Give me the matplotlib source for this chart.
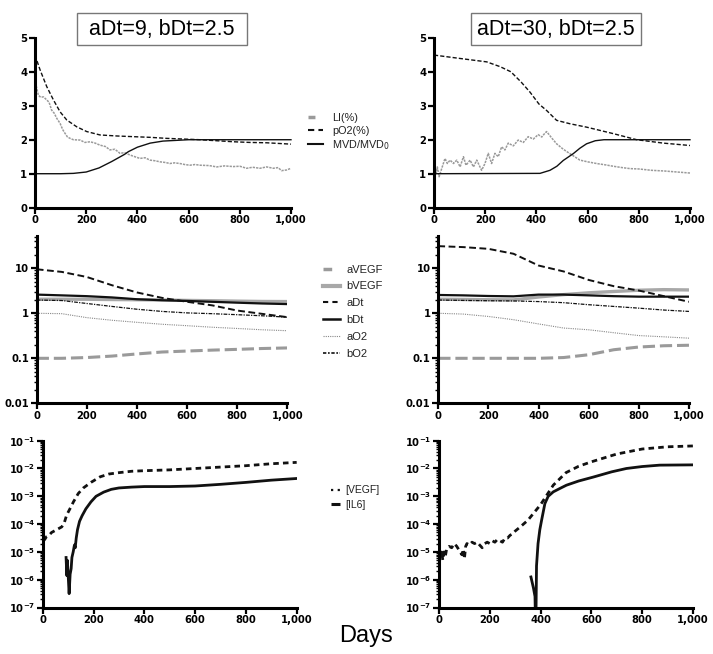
"""
Tumour model time courses: two parameter sets (aDt=9 vs aDt=30, bDt=2.5),
three rows of panels (LI/pO2/MVD, log-scale concentrations, VEGF/IL6).
"""

# %% Imports

import numpy as np
import matplotlib
matplotlib.use("Agg")
import matplotlib.pyplot as plt
from matplotlib.lines import Line2D
from matplotlib.patches import Rectangle
from matplotlib.ticker import FixedLocator, FuncFormatter, LogLocator, NullFormatter

plt.rcParams["font.family"] = ["Liberation Sans", "DejaVu Sans"]
plt.rcParams["mathtext.fontset"] = "dejavusans"

# %% Data

panel_titles = ["aDt=9, bDt=2.5", "aDt=30, bDt=2.5"]
x_ticks = [0, 200, 400, 600, 800, 1000]

# top row, left (aDt=9)
li_left_x = [0, 4, 13, 22, 33, 46, 55, 65, 75, 85, 98, 108, 117, 127, 137, 150, 176, 195, 215, 235, 254,
             275, 293, 312, 332, 350, 371, 390, 410, 430, 449, 470, 488, 510, 527, 545, 566, 585, 605,
             625, 645, 680, 710, 740, 775, 800, 827, 850, 879, 905, 931, 950, 963, 983, 1000]
li_left_y = [3.55, 3.61, 3.31, 3.25, 3.26, 3.17, 3.1, 2.87, 2.78, 2.63, 2.48, 2.3, 2.19, 2.08, 2.04, 2.0,
             1.99, 1.92, 1.94, 1.9, 1.84, 1.8, 1.7, 1.72, 1.6, 1.62, 1.55, 1.5, 1.45, 1.47, 1.4, 1.38,
             1.35, 1.33, 1.3, 1.32, 1.3, 1.27, 1.25, 1.27, 1.25, 1.24, 1.2, 1.23, 1.21, 1.22, 1.16, 1.19,
             1.16, 1.2, 1.16, 1.18, 1.09, 1.11, 1.16]
po2_left_x = [0, 20, 46, 72, 98, 124, 163, 202, 254, 320, 384, 450, 514, 580, 645, 710, 775, 840, 905, 1000]
po2_left_y = [4.49, 4.05, 3.56, 3.17, 2.82, 2.58, 2.38, 2.24, 2.14, 2.11, 2.09, 2.07, 2.04, 2.02, 2.0,
              1.97, 1.94, 1.92, 1.91, 1.87]
mvd_left_x = [0, 100, 150, 200, 250, 300, 350, 365, 400, 450, 500, 550, 600, 650, 1000]
mvd_left_y = [1.0, 1.0, 1.01, 1.05, 1.17, 1.36, 1.57, 1.65, 1.78, 1.9, 1.96, 1.98, 2.0, 2.0, 2.0]

# top row, right (aDt=30)
li_right_x = [0, 8, 13, 20, 30, 43, 52, 63, 76, 89, 102, 115, 125, 141, 154, 167, 186, 199, 212, 225,
              238, 251, 264, 277, 290, 310, 329, 349, 368, 388, 407, 421, 434, 440, 460, 479, 505, 531,
              570, 600, 635, 670, 700, 735, 766, 800, 850, 900, 950, 1000]
li_right_y = [1.4, 1.0, 1.2, 0.91, 1.15, 1.45, 1.3, 1.4, 1.3, 1.4, 1.2, 1.5, 1.25, 1.4, 1.2, 1.4, 1.1,
              1.3, 1.6, 1.3, 1.6, 1.5, 1.79, 1.7, 1.9, 1.82, 1.99, 1.92, 2.09, 2.02, 2.15, 2.08, 2.2,
              2.24, 2.05, 1.88, 1.72, 1.59, 1.4, 1.35, 1.3, 1.26, 1.22, 1.18, 1.15, 1.14, 1.1, 1.08,
              1.05, 1.02]
po2_right_x = [0, 102, 206, 258, 300, 340, 375, 410, 440, 479, 531, 596, 700, 792, 896, 1000]
po2_right_y = [4.49, 4.39, 4.29, 4.15, 4.0, 3.7, 3.4, 3.05, 2.86, 2.57, 2.47, 2.37, 2.18, 2.0, 1.9, 1.83]
mvd_right_x = [0, 414, 453, 480, 505, 544, 570, 596, 630, 664, 1000]
mvd_right_y = [1.0, 1.01, 1.1, 1.22, 1.39, 1.59, 1.75, 1.88, 1.97, 2.0, 2.0]

# middle row (log scale)
mid_x = [0, 100, 200, 300, 400, 500, 600, 700, 800, 900, 1000]
avegf_left = [0.1, 0.1, 0.104, 0.112, 0.125, 0.138, 0.145, 0.152, 0.158, 0.165, 0.17]
bvegf_left = [2.05, 2.05, 2.05, 2.02, 2.0, 1.97, 1.93, 1.9, 1.86, 1.83, 1.82]
adt_left = [9.5, 8.3, 6.4, 4.2, 2.9, 2.2, 1.8, 1.5, 1.15, 0.97, 0.82]
bdt_left = [2.6, 2.5, 2.4, 2.25, 2.05, 1.95, 1.88, 1.8, 1.72, 1.65, 1.6]
ao2_left = [1.0, 0.98, 0.8, 0.7, 0.63, 0.57, 0.53, 0.49, 0.46, 0.43, 0.41]
bo2_left = [1.97, 1.92, 1.65, 1.42, 1.23, 1.1, 1.02, 0.98, 0.93, 0.88, 0.82]

avegf_right = [0.1, 0.1, 0.1, 0.1, 0.1, 0.104, 0.12, 0.155, 0.178, 0.19, 0.195]
bvegf_right = [2.05, 2.03, 2.0, 1.98, 2.3, 2.6, 2.85, 3.05, 3.25, 3.35, 3.3]
adt_right = [31, 29.5, 27, 21, 11.5, 8.5, 5.5, 4.0, 3.2, 2.4, 1.8]
bdt_right = [2.55, 2.5, 2.42, 2.38, 2.6, 2.6, 2.5, 2.4, 2.34, 2.34, 2.34]
ao2_right = [1.0, 0.96, 0.85, 0.72, 0.58, 0.47, 0.43, 0.37, 0.32, 0.3, 0.28]
bo2_right = [1.97, 1.93, 1.9, 1.88, 1.82, 1.72, 1.55, 1.42, 1.3, 1.18, 1.1]

# bottom row, values given as log10 of the concentration
vegf_left_x = [0, 3, 8, 15, 25, 35, 45, 55, 65, 75, 85, 94, 110, 121, 140, 160, 190, 226, 260, 300,
               350, 400, 500, 600, 700, 800, 900, 1000]
vegf_left_log10 = [-4.95, -4.6, -4.55, -4.45, -4.4, -4.3, -4.25, -4.2, -4.15, -4.1, -3.95, -3.68, -3.4,
                   -3.2, -2.9, -2.7, -2.5, -2.3, -2.2, -2.15, -2.1, -2.08, -2.05, -2.0, -1.95, -1.9,
                   -1.83, -1.78]
il6_left_x = [92, 95, 97, 100, 104, 108, 112, 115, 120, 125, 128, 132, 137, 145, 155, 170, 190, 210,
              240, 270, 300, 350, 400, 500, 600, 700, 800, 900, 1000]
il6_left_log10 = [-5.2, -5.85, -5.3, -5.8, -6.5, -5.8, -5.6, -5.2, -5.0, -4.75, -4.85, -4.5, -4.2, -3.9,
                  -3.7, -3.45, -3.2, -3.0, -2.85, -2.75, -2.7, -2.67, -2.65, -2.65, -2.63, -2.57, -2.5,
                  -2.42, -2.36]

vegf_right_x = [0, 5, 10, 15, 20, 25, 30, 40, 50, 60, 70, 80, 90, 95, 100, 105, 110, 120, 130, 140, 150,
                160, 170, 180, 190, 200, 210, 220, 230, 240, 250, 260, 270, 280, 290, 300, 320, 350,
                400, 450, 500, 550, 600, 700, 800, 900, 1000]
vegf_right_log10 = [-4.9, -5.2, -4.95, -5.3, -5.0, -5.15, -4.9, -4.8, -4.85, -4.7, -4.8, -4.95, -5.1,
                    -4.9, -5.25, -4.8, -4.7, -4.75, -4.65, -4.7, -4.65, -4.75, -4.85, -4.7, -4.65, -4.7,
                    -4.6, -4.65, -4.55, -4.6, -4.65, -4.5, -4.5, -4.4, -4.35, -4.25, -4.1, -3.86, -3.3,
                    -2.6, -2.15, -1.92, -1.76, -1.48, -1.3, -1.22, -1.19]
il6_right_x = [362, 372, 378, 381, 384, 390, 397, 404, 417, 430, 450, 480, 502, 550, 607, 680, 738,
               800, 869, 1000]
il6_right_log10 = [-5.9, -6.3, -6.6, -8.0, -5.5, -4.7, -4.2, -3.86, -3.26, -3.0, -2.84, -2.7, -2.6,
                   -2.45, -2.31, -2.12, -2.0, -1.93, -1.88, -1.87]

# %% Styles

GRAY = "#9a9a9a"
INK = "#111111"


def style_axes(ax):
    for side in ("top", "right"):
        ax.spines[side].set_visible(False)
    for side in ("left", "bottom"):
        ax.spines[side].set_linewidth(2.2)
    ax.set_xlim(0, 1000)
    ax.xaxis.set_major_locator(FixedLocator(x_ticks))
    ax.xaxis.set_major_formatter(FuncFormatter(lambda v, _: f"{v:,.0f}"))
    ax.tick_params(which="major", direction="out", length=4, width=1.6, pad=1.5, labelsize=7.2)
    ax.tick_params(which="minor", direction="out", length=2.2, width=1.0)
    for lbl in ax.get_xticklabels() + ax.get_yticklabels():
        lbl.set_fontfamily("DejaVu Sans")
        lbl.set_fontweight("bold")


def log_minor(ax):
    ax.yaxis.set_minor_locator(LogLocator(base=10, subs=np.arange(2, 10), numticks=20))
    ax.yaxis.set_minor_formatter(NullFormatter())


# %% Figure

fig = plt.figure(figsize=(7.13, 6.54), dpi=100)

top_l = fig.add_axes([0.0491, 0.6824, 0.3590, 0.2599])
top_r = fig.add_axes([0.6087, 0.6824, 0.3590, 0.2599])
mid_l = fig.add_axes([0.0515, 0.3833, 0.3515, 0.2558])
mid_r = fig.add_axes([0.6147, 0.3833, 0.3516, 0.2558])
bot_l = fig.add_axes([0.0599, 0.0710, 0.3562, 0.2552])
bot_r = fig.add_axes([0.6157, 0.0710, 0.3562, 0.2552])

# top row
for ax, (lx, ly, px, py, mx, my) in zip(
    (top_l, top_r),
    (
        (li_left_x, li_left_y, po2_left_x, po2_left_y, mvd_left_x, mvd_left_y),
        (li_right_x, li_right_y, po2_right_x, po2_right_y, mvd_right_x, mvd_right_y),
    ),
):
    ax.plot(lx, ly, color=GRAY, lw=1.1, ls=(0, (1.5, 0.7)), clip_on=False)
    ax.plot(px, py, color=INK, lw=1.0, ls=(0, (3, 1.5)), clip_on=False)
    ax.plot(mx, my, color=INK, lw=1.0, clip_on=False)
    ax.set_ylim(0, 5)
    ax.set_yticks([0, 1, 2, 3, 4, 5])
    style_axes(ax)

# middle row
for ax, series in zip(
    (mid_l, mid_r),
    (
        (avegf_left, bvegf_left, adt_left, bdt_left, ao2_left, bo2_left),
        (avegf_right, bvegf_right, adt_right, bdt_right, ao2_right, bo2_right),
    ),
):
    avegf, bvegf, adt, bdt, ao2, bo2 = series
    ax.plot(mid_x, bvegf, color="#a8a8a8", lw=2.4)
    ax.plot(mid_x, avegf, color=GRAY, lw=2.2, ls=(0, (4, 1.6)))
    ax.plot(mid_x, bdt, color=INK, lw=1.6)
    ax.plot(mid_x, adt, color=INK, lw=1.4, ls=(0, (3.5, 1.8)))
    ax.plot(mid_x, ao2, color="#888888", lw=0.8, ls=(0, (1, 1)))
    ax.plot(mid_x, bo2, color=INK, lw=0.9, ls=(0, (3, 1, 1, 1)))
    ax.set_yscale("log")
    ax.set_ylim(0.01, 52)
    ax.yaxis.set_major_locator(FixedLocator([0.01, 0.1, 1, 10]))
    ax.yaxis.set_major_formatter(FuncFormatter(lambda v, _: f"{v:g}"))
    log_minor(ax)
    style_axes(ax)

# bottom row
for ax, (vx, vy, ix, iy) in zip(
    (bot_l, bot_r),
    (
        (vegf_left_x, vegf_left_log10, il6_left_x, il6_left_log10),
        (vegf_right_x, vegf_right_log10, il6_right_x, il6_right_log10),
    ),
):
    ax.plot(vx, 10.0 ** np.array(vy), color=INK, lw=2.0, ls=(0, (2, 1.5)))
    ax.plot(ix, 10.0 ** np.array(iy), color=INK, lw=2.0)
    ax.set_yscale("log")
    ax.set_ylim(1e-7, 1e-1)
    ax.yaxis.set_major_locator(FixedLocator([1e-7, 1e-6, 1e-5, 1e-4, 1e-3, 1e-2, 1e-1]))
    ax.yaxis.set_major_formatter(
        FuncFormatter(lambda v, _: r"$\mathbf{10^{%d}}$" % int(round(np.log10(v))))
    )
    log_minor(ax)
    style_axes(ax)

# %% Titles, legends, axis label

for x0, title in zip((77, 471), panel_titles):
    fig.patches.append(Rectangle((x0 / 713, 1 - 45 / 654), 170 / 713, 32 / 654,
                                 transform=fig.transFigure, fill=False, ec="#777777", lw=1.0))
    fig.text((x0 + 85) / 713, 1 - 29 / 654, title, ha="center", va="center", fontsize=15.5)

top_handles = [
    Line2D([], [], color=GRAY, lw=2.5, ls=(0, (2, 6))),
    Line2D([], [], color=INK, lw=1.5, ls=(0, (3, 2))),
    Line2D([], [], color=INK, lw=1.5),
]
fig.legend(top_handles, ["LI(%)", "pO2(%)", r"MVD/MVD$_0$"], loc="upper left",
           bbox_to_anchor=(0.432, 0.827), frameon=False, borderpad=0, borderaxespad=0,
           fontsize=7.8, handlelength=1.4, handletextpad=0.85, labelspacing=0.22,
           labelcolor="#222222")

mid_handles = [
    Line2D([], [], color=GRAY, lw=2.5, ls=(0, (2.5, 6))),
    Line2D([], [], color="#a8a8a8", lw=3.0),
    Line2D([], [], color=INK, lw=1.5, ls=(0, (2.5, 2))),
    Line2D([], [], color=INK, lw=1.8),
    Line2D([], [], color="#888888", lw=0.8, ls=(0, (1, 1))),
    Line2D([], [], color=INK, lw=1.2, ls=(0, (2, 1, 1, 1))),
]
fig.legend(mid_handles, ["aVEGF", "bVEGF", "aDt", "bDt", "aO2", "bO2"], loc="upper left",
           bbox_to_anchor=(0.453, 0.5955), frameon=False, borderpad=0, borderaxespad=0,
           fontsize=8, handlelength=1.55, handletextpad=0.55, labelspacing=0.62,
           labelcolor="#222222")

bot_handles = [
    Line2D([], [], color=INK, lw=1.6, ls=(0, (1, 2))),
    Line2D([], [], color=INK, lw=2.2, ls=(0, (3, 8))),
]
fig.legend(bot_handles, ["[VEGF]", "[IL6]"], loc="upper left",
           bbox_to_anchor=(0.464, 0.258), frameon=False, borderpad=0, borderaxespad=0,
           fontsize=7.5, handlelength=0.9, handletextpad=0.45, labelspacing=0.45,
           labelcolor="#222222")

fig.text(0.513, 0.0275, "Days", ha="center", va="center", fontsize=17)

fig.savefig("out.png", dpi=100)
plt.close(fig)
